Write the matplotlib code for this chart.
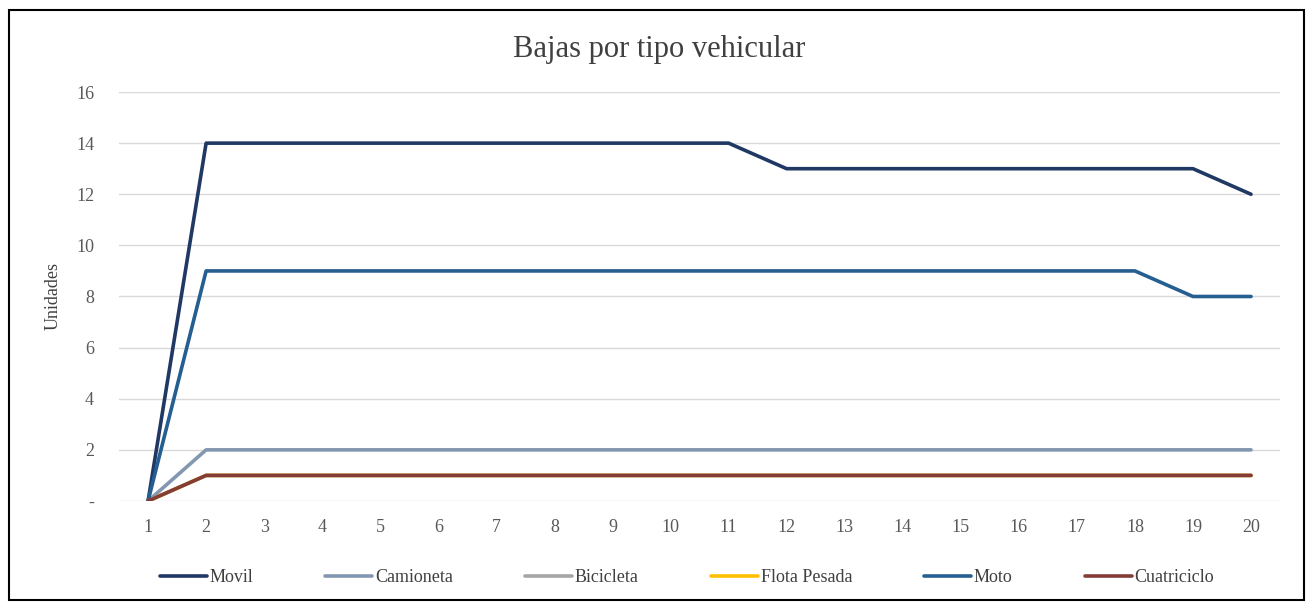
import matplotlib
matplotlib.use("Agg")
import matplotlib.pyplot as plt
from matplotlib.patches import Rectangle

plt.rcParams['font.family'] = ['Liberation Serif', 'DejaVu Serif']

x = list(range(1, 21))
movil = [0] + [14]*10 + [13]*8 + [12]
camioneta = [0] + [2]*19
bicicleta = [0] + [1]*19
flota_pesada = [0] + [1]*19
moto = [0] + [9]*17 + [8]*2
cuatriciclo = [0] + [1]*19

series = [
    ("Movil", movil, "#203864"),
    ("Camioneta", camioneta, "#8497B0"),
    ("Bicicleta", bicicleta, "#A5A5A5"),
    ("Flota Pesada", flota_pesada, "#FFC000"),
    ("Moto", moto, "#255E91"),
    ("Cuatriciclo", cuatriciclo, "#843C39"),
]
yticks = [0, 2, 4, 6, 8, 10, 12, 14, 16]
ylabels = ["-", "2", "4", "6", "8", "10", "12", "14", "16"]

fig = plt.figure(figsize=(13.11, 6.03), dpi=100)
ax = fig.add_axes([0.0908, 0.1692, 0.8856, 0.6782])
for name, vals, col in series:
    ax.plot(x, vals, color=col, lw=2.6, label=name, solid_capstyle='round', solid_joinstyle='round')

ax.set_xlim(0.5, 20.5)
ax.set_ylim(0, 16)
ax.set_yticks(yticks)
ax.set_yticklabels(ylabels)
ax.set_xticks(x)
ax.grid(axis='y', color='#D9D9D9', lw=1)
ax.set_axisbelow(True)
for s in ax.spines.values():
    s.set_visible(False)
ax.tick_params(length=0, labelsize=13, colors='#595959', pad=18)
ax.tick_params(axis='x', pad=13)
ax.set_ylabel("Unidades", fontsize=13, color='#404040', labelpad=10)
fig.text(0.503, 0.918, "Bajas por tipo vehicular", ha='center', va='center', fontsize=22, color='#404040')

leg = fig.legend(loc='center', bbox_to_anchor=(0.524, 0.042), ncol=6, frameon=False,
                 fontsize=13, handlelength=2.6, handletextpad=0.15, columnspacing=4.0)
for t in leg.get_texts():
    t.set_color('#404040')

fig.patches.append(Rectangle((0.0069, 0.005), 0.9878, 0.978, transform=fig.transFigure,
                             fill=False, edgecolor='black', lw=1.5))
fig.savefig("out.png", dpi=100)
